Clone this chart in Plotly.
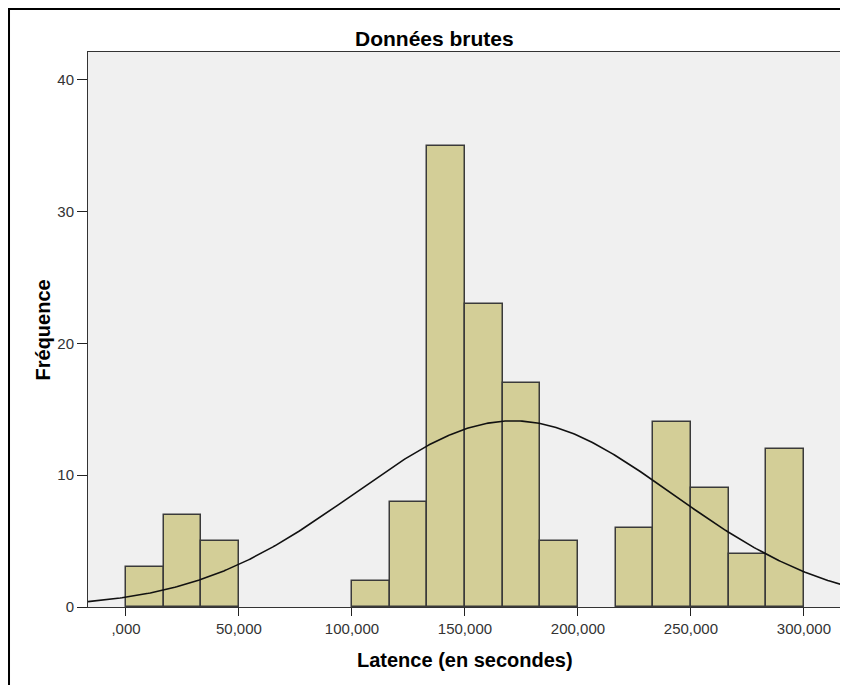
import numpy as np
import plotly.graph_objects as go

# histogram data (SPSS style, 18 bins from 0 to 300000)
bin_start = 0
bin_width = 50000 / 3
counts = [3, 7, 5, 0, 0, 0, 2, 8, 35, 23, 17, 5, 0, 6, 14, 9, 4, 12]

# fitted normal curve parameters
mean_lat = 171240
sd_lat = 70630
n_obs = sum(counts)

x_tickvals = [0, 50000, 100000, 150000, 200000, 250000, 300000]
x_ticktext = [",000", "50,000", "100,000", "150,000", "200,000", "250,000", "300,000"]
y_tickvals = [0, 10, 20, 30, 40]

font_family = "Arial, Liberation Sans, sans-serif"

centers = [bin_start + bin_width * (i + 0.5) for i in range(len(counts))]
# empty bins are not drawn
bar_heights = [c if c > 0 else None for c in counts]

x_curve = np.linspace(-16800, 316400, 400)
y_curve = n_obs * bin_width / (sd_lat * np.sqrt(2 * np.pi)) * np.exp(-0.5 * ((x_curve - mean_lat) / sd_lat) ** 2)

fig = go.Figure()
fig.add_trace(go.Bar(
    x=centers, y=bar_heights, width=bin_width,
    marker=dict(color="#D3CE97", line=dict(color="#3a3a3a", width=1.5)),
    hoverinfo="x+y",
))
fig.add_trace(go.Scatter(
    x=x_curve, y=y_curve, mode="lines",
    line=dict(color="#111111", width=1.6),
    hoverinfo="skip",
))

# the page body has an 8px margin, so the figure is 8px smaller than the window
fig.update_layout(
    width=840, height=677,
    margin=dict(l=80, r=7, t=44, b=78),
    paper_bgcolor="white",
    plot_bgcolor="#F0F0F0",
    showlegend=False,
    bargap=0,
    font=dict(family=font_family, size=15, color="#333333"),
    annotations=[
        dict(text="<b>Données brutes</b>", x=0.460, y=1.0252, xref="paper", yref="paper",
             xanchor="center", yanchor="middle", showarrow=False,
             font=dict(size=21, color="black")),
        dict(text="<b>Latence (en secondes)</b>", x=0.5, y=-0.0955, xref="paper", yref="paper",
             xanchor="center", yanchor="middle", showarrow=False,
             font=dict(size=20, color="black")),
        dict(text="<b>Fréquence</b>", x=-0.0598, y=0.5, xref="paper", yref="paper",
             xanchor="center", yanchor="middle", showarrow=False, textangle=-90,
             font=dict(size=20, color="black")),
    ],
    shapes=[
        dict(type="rect", xref="paper", yref="paper",
             x0=-0.1049, x1=1.05, y0=-0.3, y1=1.0775,
             line=dict(color="black", width=2), fillcolor="rgba(0,0,0,0)", layer="above"),
    ],
)

fig.update_xaxes(
    range=[-16800, 316400],
    tickvals=x_tickvals, ticktext=x_ticktext,
    ticks="outside", ticklen=8, tickcolor="#222", tickwidth=1,
    showline=True, linecolor="#333", linewidth=1, mirror=True,
    showgrid=False, zeroline=False,
)
fig.update_yaxes(
    range=[0, 42.1],
    tickvals=y_tickvals,
    ticks="outside", ticklen=10, tickcolor="#222", tickwidth=1,
    showline=True, linecolor="#333", linewidth=1, mirror=True,
    showgrid=False, zeroline=False,
)

fig.write_html("out.html")
